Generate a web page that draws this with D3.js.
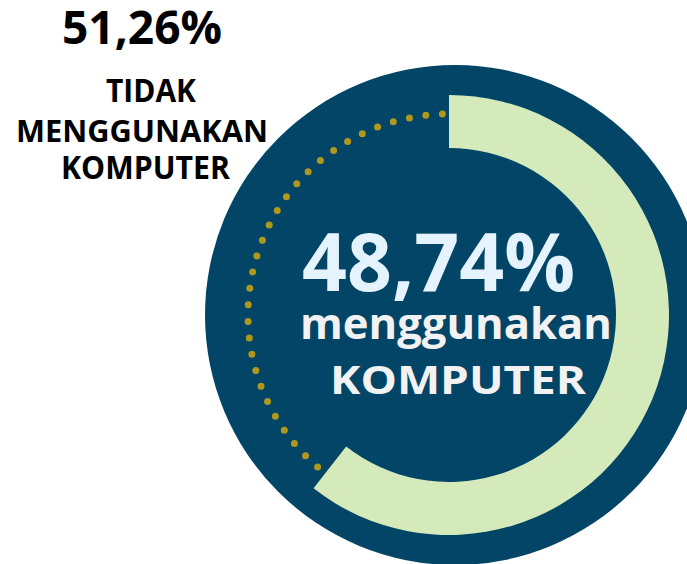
<!DOCTYPE html>
<html>
<head>
<meta charset="utf-8">
<script src="https://cdn.jsdelivr.net/npm/d3@7"></script>
<style>
  body { margin: 0; background: #fff; }
  text { font-family: 'Open Sans', 'Noto Sans', sans-serif; font-weight: 700; }
</style>
</head>
<body>
<div id="chart"></div>
<script>
// data
const categories = ['menggunakan KOMPUTER', 'TIDAK MENGGUNAKAN KOMPUTER'];
const shares = [48.74, 51.26];

const width = 687;
const height = 564;
const center = { x: 449, y: 315 };

const fmt = v => d3.format('.2f')(v).replace('.', ',') + '%';

// the infographic's gauge is not drawn to scale: 48,74% fills ~218 degrees
const angle = d3.scaleLinear()
  .domain([0, 100])
  .range([0, 2 * Math.PI * 218 / 360 * 100 / shares[0]]);

const svg = d3.select('#chart').append('svg')
    .attr('width', width)
    .attr('height', height);

// background disc
svg.append('circle')
    .attr('cx', 455)
    .attr('cy', 315)
    .attr('r', 250)
    .attr('fill', '#024566');

const gauge = svg.append('g')
    .attr('transform', `translate(${center.x}, ${center.y})`);

// dotted track for the remaining share (drawn from the top, counter-clockwise)
const endA = angle(shares[0]);
const track = d3.path();
const dotR = 201;
const a0 = 2 * Math.PI - 0.033 - Math.PI / 2;
const a1 = endA - 0.04 - Math.PI / 2;
track.moveTo(dotR * Math.cos(a0), dotR * Math.sin(a0));
track.arc(0, 0, dotR, a0, a1, true);

gauge.append('path')
    .attr('d', track.toString())
    .attr('fill', 'none')
    .attr('stroke', '#b0981f')
    .attr('stroke-width', 7)
    .attr('stroke-linecap', 'round')
    .attr('stroke-dasharray', '0 16.6');

// filled share
gauge.append('path')
    .attr('d', d3.arc()
      .innerRadius(167)
      .outerRadius(220)
      .startAngle(0)
      .endAngle(endA)())
    .attr('fill', '#d4eabb');

// labels
const [usedLabel, notUsedLabel] = categories;
const usedWords = usedLabel.split(' ');
const notWords = notUsedLabel.split(' ');

function label(txt, x, y, size, len, color) {
  svg.append('text')
      .attr('x', x)
      .attr('y', y)
      .attr('font-size', size)
      .attr('fill', color)
      .attr('textLength', len)
      .attr('lengthAdjust', 'spacingAndGlyphs')
      .text(txt);
}

// left block: not using
label(fmt(shares[1]), 62, 43.5, 47, 160, '#000');
label(notWords[0], 106, 101.5, 32, 90, '#000');
label(notWords[1], 16, 141.5, 30.5, 252, '#000');
label(notWords[2], 61, 178.5, 31.5, 169, '#000');

// centre block: using
label(fmt(shares[0]), 302, 291, 81, 273, '#e4f3fd');
label(usedWords[0], 300, 338.5, 43.5, 312, '#f2f2f2');
label(usedWords[1], 330, 394, 40, 256, '#f2f2f2');
</script>
</body>
</html>
